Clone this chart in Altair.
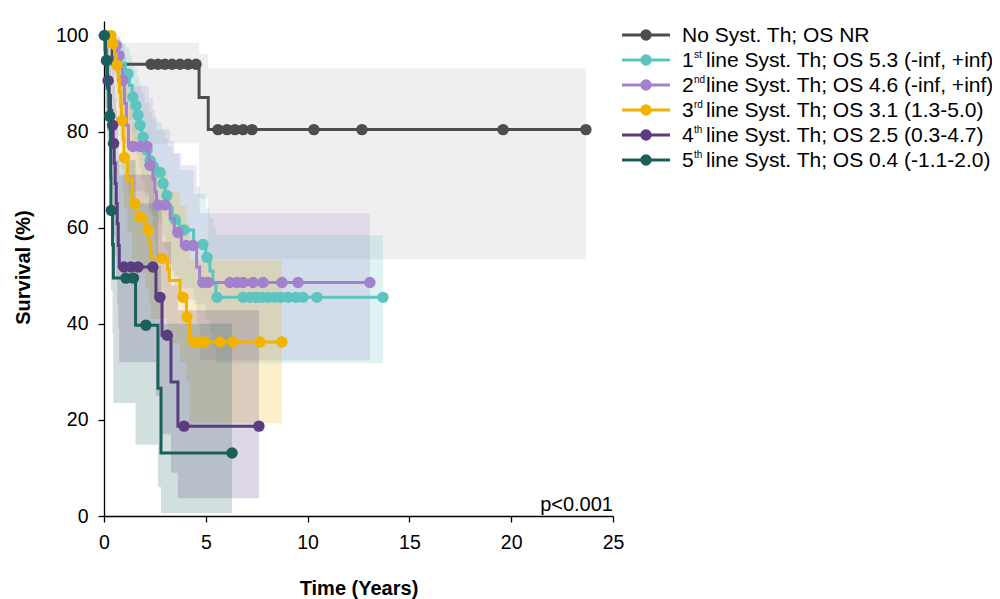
import altair as alt
import pandas as pd

FONT = "Arial, Liberation Sans, sans-serif"

NAMES = ["No Syst. Th", "1st line", "2nd line", "3rd line", "4th line", "5th line"]
COLORS = ["#4d4d4d", "#5ec4c0", "#a381cd", "#f2b200", "#5b3c81", "#1b5f5a"]
BAND_OPACITY = [0.09, 0.2, 0.2, 0.2, 0.2, 0.2]

# ---- No systemic therapy ----
t0 = [0, 0.4, 4.67, 5.12, 23.67]
s0 = [100, 94, 87.1, 80.4, 80.4]
lo0 = [100, 77.5, 66, 53.4, 53.4]
hi0 = [100, 98.5, 96.2, 93.1, 93.1]
ct0 = [2.31, 2.65, 2.99, 3.34, 3.73, 4.13, 4.52, 5.6, 6.04, 6.43, 6.83, 7.27, 10.31, 12.67, 19.6, 23.67]
cs0 = [94, 94, 94, 94, 94, 94, 94, 80.4, 80.4, 80.4, 80.4, 80.4, 80.4, 80.4, 80.4, 80.4]

# ---- 1st line ----
t1 = [0, 0.3, 0.55, 0.8, 1.05, 1.25, 1.38, 1.5, 1.62, 1.72, 1.85, 2.0, 2.2, 2.35, 2.6, 2.85,
      3.0, 3.15, 3.35, 3.7, 4.4, 5.0, 5.2, 5.35, 5.5, 13.7]
s1 = [100, 98.1, 96.2, 94.2, 92.0, 89.6, 87.2, 85.4, 83.4, 81.3, 78.8, 76.1, 74.0, 72.8, 71.5, 69.2,
      66.7, 64.2, 61.7, 59.5, 56.5, 53.8, 51.0, 48.3, 45.5, 45.5]
lo1 = [100, 94.5, 91.5, 88.5, 85.5, 82.5, 79.5, 77.5, 75, 72.5, 69.5, 66.5, 64, 62.5, 61, 58.5,
       55.5, 52.5, 50, 47.5, 44, 41, 38, 35, 31.8, 31.8]
hi1 = [100, 100, 99.5, 98.5, 97.5, 96, 94.5, 93, 91.5, 90, 88, 86, 84, 83, 82, 80,
       78.5, 77, 75.5, 72, 67, 64, 62, 60, 58.4, 58.4]
ct1 = [1.18, 1.42, 1.57, 1.67, 1.77, 1.92, 2.11, 2.26, 2.41, 2.75, 2.9, 3.09, 3.49, 3.93, 4.86, 5.06,
       5.55, 6.83, 7.17, 7.47, 7.76, 8.06, 8.4, 8.69, 9.04, 9.43, 9.77, 10.46, 13.7]
cs1 = [92.0, 87.2, 85.4, 83.4, 81.3, 78.8, 76.1, 74.0, 72.8, 71.5, 69.2, 66.7, 61.7, 59.5, 56.5, 53.8,
       45.5, 45.5, 45.5, 45.5, 45.5, 45.5, 45.5, 45.5, 45.5, 45.5, 45.5, 45.5, 45.5]

# ---- 2nd line ----
t2 = [0, 0.45, 0.65, 0.8, 0.9, 1.0, 1.1, 1.2, 2.2, 2.4, 2.5, 2.58, 3.25, 3.45, 3.8, 4.55, 4.7, 13.06]
s2 = [100, 97.9, 95.8, 93.2, 90.6, 85.9, 81.3, 76.9, 73.0, 70.2, 67.4, 64.7, 61.9, 59.0, 56.3, 51.8, 48.6, 48.6]
lo2 = [100, 92, 89, 86, 83, 77.5, 72.5, 67.5, 63, 60, 57, 54, 51, 48, 45, 40, 32.4, 32.4]
hi2 = [100, 100, 100, 99, 98, 95.5, 92.5, 89.5, 87, 84.5, 82.5, 80.5, 78, 75.5, 73, 68.5, 63, 63]
ct2 = [0.6, 0.74, 0.93, 1.42, 1.77, 2.11, 2.26, 2.65, 3.0, 3.63, 4.03, 4.37, 4.86, 5.1, 6.19, 6.53,
       6.83, 7.32, 7.81, 8.74, 9.53, 13.06]
cs2 = [97.9, 95.8, 90.6, 76.9, 76.9, 76.9, 73.0, 64.7, 64.7, 59.0, 56.3, 56.3, 48.6, 48.6, 48.6, 48.6,
       48.6, 48.6, 48.6, 48.6, 48.6, 48.6]

# ---- 3rd line ----
t3 = [0, 0.4, 0.52, 0.6, 0.7, 0.76, 0.82, 0.86, 0.94, 0.98, 1.15, 1.38, 1.6, 2.05, 2.2, 2.3,
      3.12, 3.2, 3.73, 4.05, 4.2, 8.74]
s3 = [100, 98.3, 96.1, 93.8, 91.0, 88.2, 85.3, 82.3, 78.5, 74.6, 70.0, 65.0, 62.2, 59.5, 56.9, 53.6,
      51.3, 49.0, 45.5, 41.4, 36.2, 36.2]
lo3 = [100, 93, 89, 86, 82.5, 79, 75.5, 72, 68, 64, 59, 53.5, 50.5, 47.5, 44.5, 41,
       38.5, 36, 32, 28, 19.3, 19.3]
hi3 = [100, 100, 100, 99.5, 98.5, 97, 95.5, 94, 91.5, 89, 85.5, 81.5, 79, 76.5, 74, 71.5,
       69.5, 67.5, 64.5, 61, 53.2, 53.2]
ct3 = [0.34, 0.44, 0.64, 0.88, 1.0, 1.52, 1.77, 2.16, 2.85, 3.88, 4.08, 4.47, 4.7, 4.96, 5.7, 6.34, 7.66, 8.74]
cs3 = [100, 98.3, 93.8, 82.3, 74.6, 65.0, 62.2, 59.5, 53.6, 45.5, 41.4, 36.2, 36.2, 36.2, 36.2, 36.2, 36.2, 36.2]

# ---- 4th line ----
t4 = [0, 0.05, 0.1, 0.15, 0.25, 0.32, 0.38, 0.45, 0.5, 0.55, 0.6, 0.65, 0.7, 0.75, 2.55, 2.85, 3.29, 3.63, 7.61]
s4 = [100, 97, 93.8, 90.6, 87.5, 84.4, 81.3, 77.5, 73.4, 69.2, 65.0, 60.8, 56.3, 51.8, 45.5, 37.6, 27.9, 18.7, 18.7]
lo4 = [100, 89, 84, 80, 76, 72, 68, 63, 58, 54, 49, 44, 39, 32, 25, 17, 9, 3.7, 3.7]
hi4 = [100, 100, 100, 99, 97.5, 96, 94, 92, 89.5, 87, 84.5, 82, 78, 71, 65, 57, 48, 42.8, 42.8]
ct4 = [0.2, 0.42, 0.47, 0.98, 1.33, 1.67, 2.4, 2.75, 3.1, 3.93, 7.61]
cs4 = [90.6, 81.3, 77.5, 51.8, 51.8, 51.8, 51.8, 45.5, 37.6, 18.7, 18.7]

# ---- 5th line ----
t5 = [0, 0.08, 0.16, 0.24, 0.32, 0.33, 0.34, 0.42, 0.46, 1.55, 2.65, 2.8, 6.29]
s5 = [100, 94.8, 89.0, 83.2, 77.4, 70.5, 63.6, 56.5, 49.5, 39.7, 26.6, 13.1, 13.1]
lo5 = [100, 85, 77, 70, 63, 55, 47, 38, 23.5, 14.8, 6, 0.6, 0.6]
hi5 = [100, 99.5, 98, 96, 93, 89, 85, 80, 74, 65, 52, 40, 40]
ct5 = [0.02, 0.12, 0.28, 0.36, 1.08, 1.45, 2.06, 6.29]
cs5 = [100, 94.8, 83.2, 63.6, 49.5, 49.5, 39.7, 13.1]

# ---- legend text ----
LEG_NUM = ["No Syst. Th; OS NR", "1", "2", "3", "4", "5"]
LEG_SUP = ["", "st", "nd", "rd", "th", "th"]
LEG_REST = ["", "line Syst. Th; OS 5.3 (-inf, +inf)", "line Syst. Th; OS 4.6 (-inf, +inf)",
            "line Syst. Th; OS 3.1 (1.3-5.0)", "line Syst. Th; OS 2.5 (0.3-4.7)",
            "line Syst. Th; OS 0.4 (-1.1-2.0)"]
P_TEXT = "p<0.001"

steps = [(t0, s0, lo0, hi0, ct0, cs0), (t1, s1, lo1, hi1, ct1, cs1), (t2, s2, lo2, hi2, ct2, cs2),
         (t3, s3, lo3, hi3, ct3, cs3), (t4, s4, lo4, hi4, ct4, cs4), (t5, s5, lo5, hi5, ct5, cs5)]

xscale = alt.Scale(domain=[0, 25], nice=False, zero=False)
yscale = alt.Scale(domain=[0, 103], nice=False)
common_axis = dict(grid=False, tickSize=6, labelFontSize=19.5, labelFont=FONT, labelColor="black",
                   domainColor="black", tickColor="black", domainWidth=1.3, tickWidth=1.3,
                   titleFontSize=20, titleFontWeight="bold", titleFont=FONT, titleColor="black",
                   labelFlush=False, format="d", titleAlign="center", titleBaseline="alphabetic")
xaxis = alt.Axis(values=[0, 5, 10, 15, 20, 25], title="Time (Years)", labelPadding=11,
                 titleX=254.5, titleY=78, **common_axis)
yaxis = alt.Axis(values=[0, 20, 40, 60, 80, 100], title="Survival (%)", labelPadding=10,
                 titleAngle=270, titleX=-75, titleY=246, **common_axis)

bands, lines, dots = [], [], []
for i, (tt, ss, lo, hi, ct, cs) in enumerate(steps):
    df = pd.DataFrame({"t": tt, "S": ss, "lo": lo, "hi": hi})
    dfc = pd.DataFrame({"t": ct, "S": cs})
    bands.append(alt.Chart(df).mark_area(interpolate="step-after", opacity=BAND_OPACITY[i],
                                         color=COLORS[i]).encode(
        x=alt.X("t:Q", scale=xscale, axis=xaxis),
        y=alt.Y("lo:Q", scale=yscale, axis=yaxis),
        y2="hi:Q"))
    lines.append(alt.Chart(df).mark_line(interpolate="step-after", strokeWidth=3,
                                         color=COLORS[i]).encode(
        x=alt.X("t:Q", scale=xscale, axis=xaxis),
        y=alt.Y("S:Q", scale=yscale, axis=yaxis)))
    dots.append(alt.Chart(dfc).mark_circle(size=130, opacity=1, color=COLORS[i]).encode(
        x=alt.X("t:Q", scale=xscale, axis=xaxis),
        y=alt.Y("S:Q", scale=yscale, axis=yaxis)))

series_layers = []
for i in range(len(steps)):
    series_layers += [lines[i], dots[i]]

one = pd.DataFrame({"k": [0]})
legend_layers = []
for i in range(len(LEG_NUM)):
    yy = 14 + 25 * i
    legend_layers.append(alt.Chart(one).mark_rule(strokeWidth=3, color=COLORS[i]).encode(
        x=alt.value(518), x2=alt.value(566), y=alt.value(yy)))
    legend_layers.append(alt.Chart(one).mark_circle(size=130, opacity=1, color=COLORS[i]).encode(
        x=alt.value(542), y=alt.value(yy)))
    legend_layers.append(alt.Chart(one).mark_text(text=LEG_NUM[i], align="left", baseline="middle",
                                                  fontSize=21, font=FONT, color="black").encode(
        x=alt.value(578), y=alt.value(yy + 1)))
    if LEG_SUP[i]:
        legend_layers.append(alt.Chart(one).mark_text(text=LEG_SUP[i], align="left", baseline="top",
                                                      fontSize=10, font=FONT, color="black").encode(
            x=alt.value(590), y=alt.value(yy - 10)))
        legend_layers.append(alt.Chart(one).mark_text(text=LEG_REST[i], align="left", baseline="middle",
                                                      fontSize=21, font=FONT, color="black").encode(
            x=alt.value(602), y=alt.value(yy + 1)))

ptext = alt.Chart(one).mark_text(text=P_TEXT, align="right", baseline="middle", fontSize=20,
                                 font=FONT, color="black").encode(x=alt.value(509), y=alt.value(484))

chart = alt.layer(*bands, *series_layers, *legend_layers, ptext).properties(
    width=509, height=495, autosize="none",
    padding={"left": 96, "top": 13, "right": 379, "bottom": 83},
    background="white",
).configure_view(stroke=None)

chart.save("out.html", embed_options={"renderer": "svg", "actions": False})
